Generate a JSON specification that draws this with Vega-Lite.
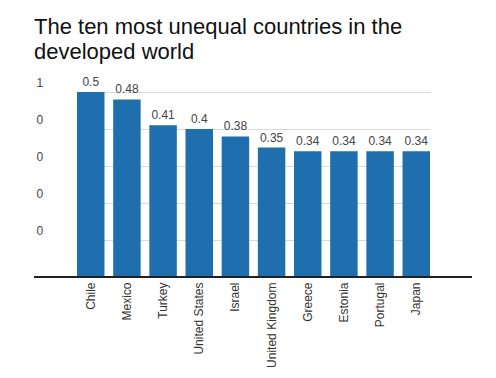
{
  "$schema": "https://vega.github.io/schema/vega-lite/v6.json",
  "width": 438,
  "height": 185,
  "autosize": "none",
  "padding": {"left": 34, "top": 92, "right": 24, "bottom": 101},
  "background": "white",
  "title": {
    "text": ["The ten most unequal countries in the", "developed world"],
    "anchor": "start",
    "frame": "group",
    "font": "Liberation Sans",
    "fontSize": 22,
    "fontWeight": "normal",
    "color": "#111111",
    "lineHeight": 25,
    "offset": 12
  },
  "config": {
    "view": {"stroke": null},
    "font": "Liberation Sans"
  },
  "data": {
    "values": [
      {"country": "Chile", "gini": 0.5},
      {"country": "Mexico", "gini": 0.48},
      {"country": "Turkey", "gini": 0.41},
      {"country": "United States", "gini": 0.4},
      {"country": "Israel", "gini": 0.38},
      {"country": "United Kingdom", "gini": 0.35},
      {"country": "Greece", "gini": 0.34},
      {"country": "Estonia", "gini": 0.34},
      {"country": "Portugal", "gini": 0.34},
      {"country": "Japan", "gini": 0.34}
    ]
  },
  "encoding": {
    "x": {
      "field": "country",
      "type": "nominal",
      "sort": null,
      "scale": {"paddingInner": 0.24, "paddingOuter": 0, "range": [43, 396]},
      "axis": {
        "title": null,
        "labelAngle": -90,
        "labelAlign": "right",
        "labelBaseline": "middle",
        "labelFontSize": 12,
        "labelColor": "#333333",
        "labelPadding": 5,
        "ticks": false,
        "domain": false,
        "grid": false
      }
    }
  },
  "layer": [
    {
      "mark": {"type": "bar", "color": "#1f6fae"},
      "encoding": {
        "y": {
          "field": "gini",
          "type": "quantitative",
          "scale": {"domain": [0, 0.5], "nice": false},
          "axis": {
            "title": null,
            "values": [0.1, 0.2, 0.3, 0.4, 0.5],
            "format": ".0f",
            "domain": false,
            "ticks": false,
            "tickSize": 0,
            "labelAlign": "left",
            "labelBaseline": "alphabetic",
            "labelPadding": -2,
            "labelOffset": -6,
            "labelFontSize": 12,
            "labelColor": "#444444",
            "gridColor": "#d9d9d9",
            "gridWidth": 1
          }
        }
      }
    },
    {
      "mark": {"type": "text", "baseline": "alphabetic", "dy": -6, "fontSize": 12, "color": "#444444"},
      "encoding": {
        "y": {"field": "gini", "type": "quantitative"},
        "text": {"field": "gini", "type": "quantitative"}
      }
    },
    {
      "mark": {"type": "rule", "color": "#222222", "strokeWidth": 1.5},
      "encoding": {
        "x": null,
        "y": {"datum": 0, "type": "quantitative"}
      }
    }
  ]
}
